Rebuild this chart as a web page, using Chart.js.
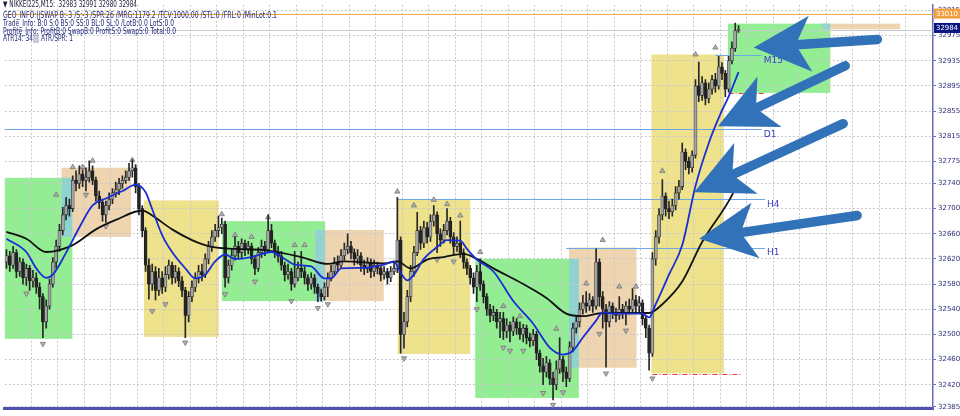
<!DOCTYPE html>
<html>
<head>
<meta charset="utf-8">
<title>NIKKEI225 M15</title>
<script src="https://cdn.jsdelivr.net/npm/chart.js@4.4.0/dist/chart.umd.min.js"></script>
<style>
  html, body { margin: 0; padding: 0; background: #ffffff; }
  canvas { display: block; }
</style>
</head>
<body>
<canvas id="chart" width="960" height="416"></canvas>
<script>
'use strict';

var opens = [
  32615, 32625, 32610, 32630, 32600, 32615, 32590, 32605, 32585, 32590, 32575, 32560, 32520, 32545, 32580, 32615,
  32640, 32665, 32690, 32705, 32700, 32745, 32740, 32755, 32745, 32750, 32760, 32745, 32720, 32710, 32690, 32705,
  32715, 32725, 32730, 32740, 32745, 32750, 32760, 32765, 32735, 32700, 32665, 32610, 32580, 32600, 32570, 32590,
  32575, 32595, 32610, 32590, 32600, 32585, 32570, 32530, 32560, 32575, 32590, 32600, 32595, 32620, 32640, 32655,
  32665, 32670, 32675, 32590, 32610, 32625, 32640, 32630, 32645, 32635, 32640, 32620, 32605, 32630, 32640, 32635,
  32665, 32645, 32630, 32625, 32610, 32595, 32600, 32580, 32590, 32605, 32600, 32590, 32580, 32590, 32575, 32565,
  32560, 32575, 32590, 32600, 32615, 32610, 32625, 32635, 32640, 32630, 32620, 32625, 32610, 32605, 32615, 32600,
  32610, 32605, 32595, 32600, 32590, 32600, 32605, 32650, 32500, 32520, 32560, 32600, 32630, 32665, 32645, 32670,
  32655, 32680, 32690, 32660, 32650, 32665, 32680, 32655, 32640, 32645, 32630, 32615, 32605, 32590, 32575, 32600,
  32580, 32560, 32540, 32530, 32535, 32520, 32525, 32505, 32515, 32505, 32520, 32510, 32500, 32510, 32495, 32490,
  32500, 32470, 32450, 32440, 32455, 32430, 32420, 32445, 32460, 32440, 32430, 32480, 32510, 32520, 32540, 32550,
  32545, 32555, 32545, 32615, 32560, 32540, 32520, 32545, 32535, 32530, 32540, 32535, 32545, 32540, 32555, 32545,
  32550, 32525, 32510, 32470, 32620, 32655, 32690, 32720, 32700, 32695, 32705, 32725, 32735, 32790, 32775, 32765,
  32785, 32895, 32880, 32900, 32875, 32890, 32905, 32895, 32925, 32915, 32890, 32935, 32955, 32983
];
var highs = [
  32635, 32632, 32640, 32635, 32622, 32620, 32612, 32610, 32602, 32598, 32582, 32565, 32555, 32588, 32622, 32650,
  32675, 32702, 32718, 32715, 32752, 32760, 32768, 32762, 32765, 32776, 32768, 32750, 32728, 32715, 32712, 32725,
  32732, 32742, 32748, 32752, 32760, 32772, 32778, 32770, 32740, 32705, 32670, 32620, 32612, 32608, 32605, 32600,
  32608, 32618, 32615, 32610, 32606, 32592, 32575, 32568, 32585, 32598, 32610, 32612, 32628, 32648, 32665, 32675,
  32688, 32685, 32680, 32618, 32635, 32655, 32648, 32652, 32650, 32648, 32645, 32625, 32638, 32650, 32648, 32690,
  32675, 32650, 32640, 32632, 32615, 32612, 32605, 32632, 32615, 32632, 32608, 32595, 32598, 32595, 32580, 32572,
  32582, 32598, 32610, 32622, 32625, 32635, 32645, 32660, 32648, 32636, 32635, 32630, 32618, 32622, 32620, 32618,
  32615, 32610, 32608, 32605, 32608, 32615, 32718, 32655, 32535, 32570, 32610, 32640, 32694, 32672, 32680, 32678,
  32690, 32705, 32695, 32668, 32675, 32700, 32686, 32662, 32655, 32680, 32636, 32620, 32610, 32598, 32610, 32620,
  32585, 32565, 32548, 32545, 32540, 32535, 32535, 32525, 32520, 32528, 32525, 32520, 32516, 32515, 32502, 32508,
  32505, 32475, 32462, 32465, 32460, 32440, 32458, 32495, 32465, 32448, 32488, 32518, 32530, 32550, 32562, 32568,
  32565, 32560, 32636, 32620, 32568, 32548, 32552, 32550, 32542, 32560, 32548, 32552, 32556, 32573, 32562, 32560,
  32555, 32530, 32515, 32630, 32665, 32700, 32746, 32725, 32712, 32715, 32735, 32745, 32804, 32795, 32782, 32792,
  32905, 32933, 32910, 32905, 32900, 32912, 32915, 32942, 32932, 32920, 32942, 32965, 32995, 32991
];
var lows = [
  32605, 32600, 32605, 32590, 32592, 32580, 32578, 32570, 32575, 32565, 32540, 32495, 32510, 32540, 32575, 32605,
  32632, 32658, 32682, 32688, 32695, 32728, 32732, 32735, 32728, 32742, 32738, 32712, 32700, 32680, 32678, 32698,
  32708, 32718, 32722, 32732, 32740, 32745, 32750, 32725, 32690, 32655, 32600, 32556, 32570, 32555, 32562, 32565,
  32568, 32588, 32580, 32582, 32576, 32560, 32495, 32520, 32552, 32568, 32582, 32585, 32590, 32612, 32632, 32648,
  32655, 32660, 32575, 32582, 32602, 32618, 32620, 32622, 32625, 32628, 32612, 32595, 32600, 32622, 32625, 32630,
  32638, 32622, 32615, 32602, 32585, 32588, 32570, 32575, 32585, 32590, 32580, 32570, 32572, 32565, 32552, 32553,
  32555, 32560, 32585, 32595, 32600, 32605, 32618, 32628, 32620, 32610, 32612, 32600, 32595, 32598, 32590, 32592,
  32596, 32585, 32588, 32580, 32584, 32595, 32598, 32470, 32478, 32512, 32552, 32592, 32625, 32635, 32638, 32645,
  32648, 32672, 32630, 32640, 32645, 32658, 32645, 32628, 32632, 32622, 32605, 32595, 32580, 32565, 32552, 32570,
  32550, 32530, 32520, 32522, 32510, 32495, 32492, 32495, 32488, 32498, 32500, 32492, 32488, 32485, 32480, 32482,
  32460, 32440, 32420, 32432, 32420, 32396, 32412, 32438, 32425, 32417, 32425, 32472, 32502, 32512, 32532, 32535,
  32538, 32535, 32540, 32545, 32510, 32448, 32512, 32525, 32520, 32524, 32525, 32515, 32532, 32535, 32536, 32535,
  32515, 32495, 32443, 32465, 32610, 32645, 32682, 32688, 32684, 32688, 32698, 32715, 32730, 32762, 32755, 32758,
  32780, 32870, 32872, 32865, 32868, 32882, 32885, 32890, 32905, 32878, 32885, 32930, 32950, 32980
];
var closes = [
  32625, 32610, 32630, 32600, 32615, 32590, 32605, 32585, 32590, 32575, 32560, 32520, 32545, 32580, 32615, 32640,
  32665, 32690, 32705, 32700, 32745, 32740, 32755, 32745, 32750, 32760, 32745, 32720, 32710, 32690, 32705, 32715,
  32725, 32730, 32740, 32745, 32750, 32760, 32765, 32735, 32700, 32665, 32610, 32580, 32600, 32570, 32590, 32575,
  32595, 32610, 32590, 32600, 32585, 32570, 32530, 32560, 32575, 32590, 32600, 32595, 32620, 32640, 32655, 32665,
  32670, 32675, 32590, 32610, 32625, 32640, 32630, 32645, 32635, 32640, 32620, 32605, 32630, 32640, 32635, 32665,
  32645, 32630, 32625, 32610, 32595, 32600, 32580, 32590, 32605, 32600, 32590, 32580, 32590, 32575, 32565, 32560,
  32575, 32590, 32600, 32615, 32610, 32625, 32635, 32640, 32630, 32620, 32625, 32610, 32605, 32615, 32600, 32610,
  32605, 32595, 32600, 32590, 32600, 32605, 32650, 32500, 32520, 32560, 32600, 32630, 32665, 32645, 32670, 32655,
  32680, 32690, 32660, 32650, 32665, 32680, 32655, 32640, 32645, 32630, 32615, 32605, 32590, 32575, 32600, 32580,
  32560, 32540, 32530, 32535, 32520, 32525, 32505, 32515, 32505, 32520, 32510, 32500, 32510, 32495, 32490, 32500,
  32470, 32450, 32440, 32455, 32430, 32420, 32445, 32460, 32440, 32430, 32480, 32510, 32520, 32540, 32550, 32545,
  32555, 32545, 32615, 32560, 32540, 32520, 32545, 32535, 32530, 32540, 32535, 32545, 32540, 32555, 32545, 32550,
  32525, 32510, 32470, 32620, 32655, 32690, 32720, 32700, 32695, 32705, 32725, 32735, 32790, 32775, 32765, 32785,
  32895, 32880, 32900, 32875, 32890, 32905, 32895, 32925, 32915, 32890, 32935, 32955, 32983, 32984
];

// Moving averages (bar index / price where the line was read) :
var blueMaBars = [0, 6, 9, 12, 14, 18, 22, 26, 30, 35, 39, 42, 44, 47, 50, 54, 57, 60, 63, 66, 69, 74, 80, 84, 87, 92, 96, 98,
  101, 108, 114, 117, 119, 121, 123, 126, 130, 133, 137, 139, 142, 147, 153, 159, 164, 168, 171, 174, 178, 180, 184, 188,
  192, 194, 196, 200, 204, 208, 212, 216, 218, 221];
var blueMaValues = [32652, 32631, 32605, 32590, 32595, 32630, 32670, 32705, 32716, 32728, 32738, 32726, 32699, 32658, 32631,
  32605, 32589, 32595, 32616, 32627, 32620, 32623, 32631, 32620, 32611, 32608, 32589, 32589, 32605, 32606, 32611, 32616,
  32598, 32586, 32595, 32620, 32639, 32650, 32649, 32636, 32619, 32600, 32553, 32517, 32479, 32468, 32474, 32495, 32522,
  32535, 32533, 32533, 32533, 32527, 32548, 32595, 32642, 32736, 32804, 32856, 32878, 32917];
var blackMaBars = [0, 6, 12, 20, 27, 33, 41, 44, 50, 56, 62, 69, 78, 89, 97, 102, 114, 118, 122, 127, 132, 138, 142, 147,
  156, 163, 169, 174, 180, 192, 194, 198, 204, 210, 219, 221];
var blackMaValues = [32663, 32652, 32631, 32642, 32667, 32682, 32697, 32689, 32667, 32650, 32639, 32636, 32634, 32623, 32612,
  32616, 32613, 32616, 32605, 32619, 32623, 32628, 32620, 32605, 32580, 32558, 32533, 32529, 32534, 32534, 32534, 32548,
  32584, 32647, 32721, 32745];

// Fractal markers :
var upFractalBars = [15, 20, 23, 26, 38, 65, 69, 74, 79, 87, 90, 118, 123, 129, 133, 137, 143, 150, 155, 166, 175, 180, 185, 190, 198, 208, 214];
var upFractalPrices = [32722, 32766, 32766, 32776, 32777, 32691, 32658, 32655, 32686, 32642, 32642, 32727, 32705, 32714, 32707,
  32689, 32631, 32545, 32529, 32509, 32581, 32650, 32576, 32576, 32760, 32945, 32956];
var downFractalBars = [6, 11, 24, 30, 44, 48, 54, 66, 75, 86, 94, 97, 120, 130, 135, 142, 150, 152, 156, 162, 165, 168, 179, 181, 187, 195];
var downFractalPrices = [32565, 32485, 32722, 32672, 32537, 32548, 32487, 32564, 32584, 32553, 32542, 32548, 32462, 32619, 32616,
  32540, 32479, 32474, 32474, 32407, 32388, 32408, 32501, 32438, 32506, 32430];

// Zones (rectangles) :
var boxKinds = ['green', 'tan', 'teal', 'khaki', 'green', 'tan', 'teal', 'khaki', 'green', 'tan', 'teal', 'khaki', 'green', 'tan', 'teal'];
var boxStartBars = [-1, 16.6, 16.6, 41.5, 65, 93.2, 93.2, 118.1, 141.5, 169.8, 169.8, 194.7, 217.8, 246.3, 246.3];
var boxEndBars = [19.9, 37.6, 19.9, 64.1, 96.2, 113.9, 96.2, 140, 172.8, 190.2, 172.8, 216.6, 248.7, 269.8, 248.7];
var boxTopPrices = [32749, 32765, 32749, 32713, 32680, 32666, 32666, 32715, 32620, 32638, 32620, 32945, 32994, 32994, 32994];
var boxBottomPrices = [32493, 32655, 32655, 32496, 32553, 32553, 32553, 32469, 32399, 32447, 32447, 32438, 32884, 32985, 32985];

// Levels :
var levelNames = ['D1', 'H4', 'H1', 'M15'];
var levelPrices = [32827, 32715, 32638, 32944];
var levelStartBars = [-1, 118, 169, 214];
var levelEndBars = [228, 229, 229, 228];
var stopLinePrices = [32437, 32884];
var stopLineStartBars = [195, 218];
var stopLineEndBars = [222, 229];
var highLinePrice = 33010;
var bidPrice = 32984;

// Pointer arrows (tip and tail in bar / price) :
var arrowTipBars = [225.6, 214.8, 207.6, 209.1];
var arrowTipPrices = [32956, 32831, 32726, 32652];
var arrowTailBars = [262.9, 253.2, 252.6, 256.8];
var arrowTailPrices = [32969, 32927, 32835, 32689];

// Axis :
var priceTicks = [33015, 32975, 32935, 32895, 32855, 32815, 32775, 32740, 32700, 32660, 32620, 32580, 32540, 32500, 32460, 32420, 32385];
var headerLines = [
  '\u25BC NIKKEI225,M15:  32983 32991 32980 32984',
  'GEO_INFO:||SWAP B:-3 /S:-3 /SPR:26 /MRG:1179.2 /TCV:1000.00 /STL:0 /FRL:0 /MinLot:0.1',
  'Trade_Info: B:0 S:0 BS:0 SS:0 BL:0 SL:0 /LotB:0.0 LotS:0.0',
  'Profite_Info: ProfitB:0 SwapB:0 ProfitS:0 SwapS:0 Total:0.0',
  'ATR14: 34||| ATR/SPR: 1'
];

// Styles :
var boxColors = { green: '#93ee93', tan: '#eed5b0', teal: '#8fd3d0', khaki: '#eee28c' };
var headerWidths = [134, 274, 171, 173, 70];
var headerRows = [5, 15.5, 23.5, 31.3, 39];
var arrowColor = '#3172b8';

// Building the datasets :
function toPoints(xs, ys) {
  var pts = [];
  for (var i = 0; i < xs.length; i++) {
    pts.push({x: xs[i], y: ys[i]});
  }
  return pts;
}

var wickData = [];
var bodyData = [];
var bodyColors = [];
for (var i = 0; i < closes.length; i++) {
  wickData.push({x: i, y: [lows[i], highs[i]]});
  bodyData.push({x: i, y: [Math.min(opens[i], closes[i]), Math.max(opens[i], closes[i])]});
  bodyColors.push(closes[i] >= opens[i] ? '#a4a4a4' : '#242424');
}

function drawArrow(ctx, tx, ty, ex, ey) {
  var dx = ex - tx;
  var dy = ey - ty;
  var len = Math.sqrt(dx * dx + dy * dy);
  var ux = dx / len;
  var uy = dy / len;
  var nx = -uy;
  var ny = ux;
  var headLen = 57;
  var headHalf = 28;
  var notch = 42;
  ctx.strokeStyle = arrowColor;
  ctx.fillStyle = arrowColor;
  ctx.lineWidth = 9.5;
  ctx.lineCap = 'round';
  ctx.beginPath();
  ctx.moveTo(tx + ux * notch, ty + uy * notch);
  ctx.lineTo(ex, ey);
  ctx.stroke();
  ctx.beginPath();
  ctx.moveTo(tx, ty);
  ctx.lineTo(tx + ux * headLen + nx * headHalf, ty + uy * headLen + ny * headHalf);
  ctx.lineTo(tx + ux * notch, ty + uy * notch);
  ctx.lineTo(tx + ux * headLen - nx * headHalf, ty + uy * headLen - ny * headHalf);
  ctx.closePath();
  ctx.fill();
}

function priceBox(ctx, yPix, text, bg, left) {
  ctx.fillStyle = bg;
  ctx.fillRect(left + 1, yPix - 5, 26, 10);
  ctx.fillStyle = '#ffffff';
  ctx.font = '7px "DejaVu Sans"';
  ctx.textAlign = 'left';
  ctx.textBaseline = 'middle';
  ctx.fillText(text, left + 3, yPix + 0.5, 22);
}

var overlayPlugin = {
  id: 'overlay',
  beforeDraw: function (chart) {
    var ctx = chart.ctx;
    var area = chart.chartArea;
    var xs = chart.scales.x;
    var ys = chart.scales.y;
    ctx.save();
    ctx.beginPath();
    ctx.rect(area.left, area.top, area.right - area.left, area.bottom - area.top);
    ctx.clip();
    for (var b = 0; b < boxKinds.length; b++) {
      var x1 = xs.getPixelForValue(boxStartBars[b]);
      var x2 = xs.getPixelForValue(boxEndBars[b]);
      var y1 = ys.getPixelForValue(boxTopPrices[b]);
      var y2 = ys.getPixelForValue(boxBottomPrices[b]);
      ctx.fillStyle = boxColors[boxKinds[b]];
      ctx.fillRect(x1, y1, x2 - x1, y2 - y1);
    }
    ctx.restore();
  },
  beforeDatasetsDraw: function (chart) {
    var ctx = chart.ctx;
    var area = chart.chartArea;
    var xs = chart.scales.x;
    var ys = chart.scales.y;
    ctx.save();
    ctx.beginPath();
    ctx.rect(area.left, area.top, area.right - area.left, area.bottom - area.top);
    ctx.clip();
    ctx.lineWidth = 1;
    // high line and bid line
    var yh = Math.round(ys.getPixelForValue(highLinePrice)) + 0.5;
    ctx.strokeStyle = '#f0a848';
    ctx.beginPath(); ctx.moveTo(area.left, yh); ctx.lineTo(area.right, yh); ctx.stroke();
    var yb = Math.round(ys.getPixelForValue(bidPrice)) + 0.5;
    ctx.strokeStyle = '#c9c9d6';
    ctx.beginPath(); ctx.moveTo(area.left, yb); ctx.lineTo(area.right, yb); ctx.stroke();
    // D1 / H4 / H1 / M15
    ctx.strokeStyle = '#6ea8e6';
    for (var l = 0; l < levelNames.length; l++) {
      var y = Math.round(ys.getPixelForValue(levelPrices[l])) + 0.5;
      ctx.beginPath();
      ctx.moveTo(xs.getPixelForValue(levelStartBars[l]), y);
      ctx.lineTo(xs.getPixelForValue(levelEndBars[l]), y);
      ctx.stroke();
    }
    // red stop lines
    ctx.strokeStyle = '#e03a3a';
    ctx.setLineDash([5, 2, 1, 2]);
    for (var s = 0; s < stopLinePrices.length; s++) {
      var ys2 = Math.round(ys.getPixelForValue(stopLinePrices[s])) + 0.5;
      ctx.beginPath();
      ctx.moveTo(xs.getPixelForValue(stopLineStartBars[s]), ys2);
      ctx.lineTo(xs.getPixelForValue(stopLineEndBars[s]), ys2);
      ctx.stroke();
    }
    ctx.restore();
  },
  afterDraw: function (chart) {
    var ctx = chart.ctx;
    var area = chart.chartArea;
    var xs = chart.scales.x;
    var ys = chart.scales.y;
    ctx.save();
    // level names
    ctx.fillStyle = '#3a3ac6';
    ctx.font = '9px "DejaVu Sans"';
    ctx.textAlign = 'left';
    ctx.textBaseline = 'middle';
    for (var l = 0; l < levelNames.length; l++) {
      ctx.fillText(levelNames[l], xs.getPixelForValue(levelEndBars[l]) + 2, ys.getPixelForValue(levelPrices[l]) + 5.5);
    }
    // arrows
    for (var a = 0; a < arrowTipBars.length; a++) {
      drawArrow(ctx,
        xs.getPixelForValue(arrowTipBars[a]), ys.getPixelForValue(arrowTipPrices[a]),
        xs.getPixelForValue(arrowTailBars[a]), ys.getPixelForValue(arrowTailPrices[a]));
    }
    // header text
    ctx.textAlign = 'left';
    ctx.textBaseline = 'middle';
    for (var h = 0; h < headerLines.length; h++) {
      ctx.fillStyle = h === 0 ? '#1c1c3c' : '#1d2878';
      ctx.font = '8.5px "DejaVu Sans"';
      ctx.fillText(headerLines[h], 3, headerRows[h], headerWidths[h]);
    }
    // price boxes on the axis
    priceBox(ctx, ys.getPixelForValue(highLinePrice), String(highLinePrice), '#f0a040', area.right);
    priceBox(ctx, ys.getPixelForValue(bidPrice) - 2, String(bidPrice), '#0b1580', area.right);
    ctx.restore();
  }
};

var ctx = document.getElementById('chart').getContext('2d');
var chart = new Chart(ctx, { //eslint-disable-line
  type: 'bar',
  data: {
    datasets: [
      {
        type: 'line', label: 'MA fast', data: toPoints(blueMaBars, blueMaValues),
        borderColor: '#1a2ed4', borderWidth: 1.8, pointRadius: 0, fill: false,
        cubicInterpolationMode: 'monotone', order: 1
      },
      {
        type: 'line', label: 'MA slow', data: toPoints(blackMaBars, blackMaValues),
        borderColor: '#111111', borderWidth: 1.8, pointRadius: 0, fill: false,
        cubicInterpolationMode: 'monotone', order: 2
      },
      {
        type: 'bar', label: 'body', data: bodyData, backgroundColor: bodyColors,
        borderColor: '#1c1c1c', borderWidth: 0.6, borderSkipped: false,
        barThickness: 3, grouped: false, minBarLength: 1, order: 3
      },
      {
        type: 'bar', label: 'wick', data: wickData, backgroundColor: '#262626',
        borderWidth: 0, barThickness: 1, grouped: false, order: 4
      },
      {
        type: 'scatter', label: 'fractal up', data: toPoints(upFractalBars, upFractalPrices),
        pointStyle: 'triangle', pointRadius: 3, rotation: 0,
        backgroundColor: '#b3b3b3', borderColor: '#747474', borderWidth: 0.8, order: 5
      },
      {
        type: 'scatter', label: 'fractal down', data: toPoints(downFractalBars, downFractalPrices),
        pointStyle: 'triangle', pointRadius: 3, rotation: 180,
        backgroundColor: '#b3b3b3', borderColor: '#747474', borderWidth: 0.8, order: 5
      }
    ]
  },
  options: {
    responsive: false,
    animation: false,
    devicePixelRatio: 1,
    layout: { padding: 0 },
    plugins: { legend: { display: false }, tooltip: { enabled: false } },
    scales: {
      x: {
        type: 'linear', min: -0.5, max: 279.7, offset: false, bounds: 'data',
        afterBuildTicks: function (axis) {
          var t = [];
          for (var k = 1; k <= 35; k++) { t.push({value: k * 8 - 0.5}); }
          axis.ticks = t;
        },
        afterFit: function (axis) { axis.height = 8; },
        grid: { offset: false, color: '#c8c8ce', drawTicks: false },
        border: { color: '#5050b0', width: 3, dash: [2, 2] },
        ticks: { display: false }
      },
      y: {
        type: 'linear', position: 'right', min: 32383, max: 33024, beginAtZero: false, bounds: 'data',
        afterBuildTicks: function (axis) {
          axis.ticks = priceTicks.map(function (v) { return {value: v}; });
        },
        afterFit: function (axis) { axis.width = 27; axis.paddingTop = 0; axis.paddingBottom = 0; },
        grid: { color: '#c8c8ce', tickLength: 3, tickColor: '#6a6ab0', tickBorderDash: [] },
        border: { color: '#6a6ab6', width: 1.5, dash: [2, 2] },
        ticks: {
          color: '#2e2e7e', padding: 2, font: { family: 'DejaVu Sans', size: 7 },
          callback: function (v) { return String(v); }
        }
      }
    }
  },
  plugins: [overlayPlugin]
});
</script>
</body>
</html>
